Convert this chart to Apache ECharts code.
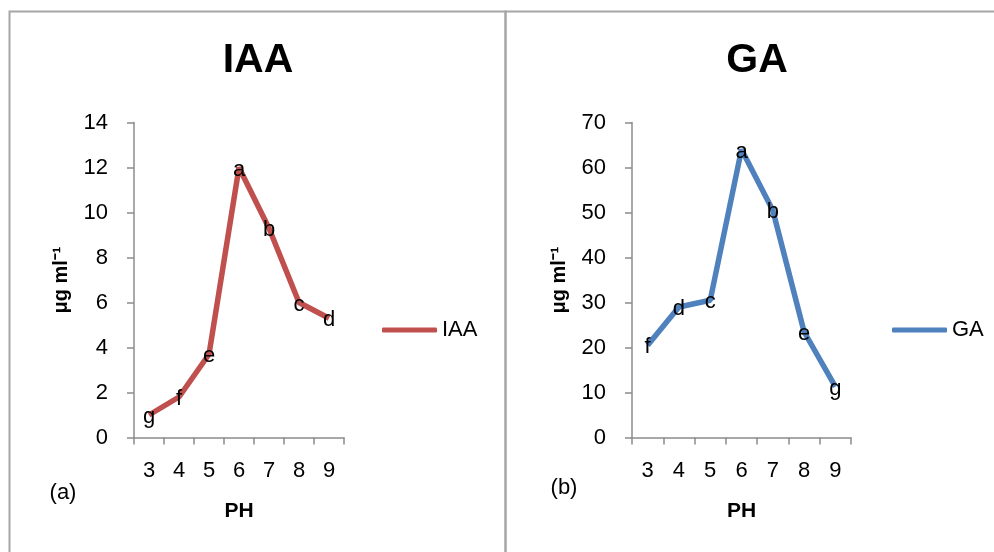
<!DOCTYPE html>
<meta charset="utf-8" />
<style>
html, body { margin: 0; padding: 0; background: #fff; }
#chart { width: 994px; height: 552px; }
</style>
<script src="https://cdn.jsdelivr.net/npm/echarts@6.0.0/dist/echarts.min.js"></script>
<div id="chart"></div>
<script>
// pH levels shared by both panels
const phLevels = ['3', '4', '5', '6', '7', '8', '9'];

// IAA (panel a)
const iaaValues = [1.0, 1.8, 3.7, 12.0, 9.3, 6.0, 5.3];
const iaaLetters = ['g', 'f', 'e', 'a', 'b', 'c', 'd'];

// GA (panel b)
const gaValues = [20.5, 29.0, 30.5, 64.0, 50.5, 23.5, 11.3];
const gaLetters = ['f', 'd', 'c', 'a', 'b', 'e', 'g'];

const FONT = '"Liberation Sans", Arial, sans-serif';
const AXIS_COLOR = '#8c8c8c';

const chart = echarts.init(document.getElementById('chart'), null, { renderer: 'canvas' });

const xAxisFor = (gridIndex) => ({
  type: 'category',
  gridIndex,
  data: phLevels,
  boundaryGap: true,
  name: 'PH',
  nameLocation: 'middle',
  nameGap: 63,
  nameTextStyle: { fontFamily: FONT, fontWeight: 'bold', fontSize: 21, color: '#000' },
  axisLine: { lineStyle: { color: AXIS_COLOR, width: 1.5 } },
  axisTick: { show: true, length: 7, lineStyle: { color: AXIS_COLOR, width: 1.5 } },
  axisLabel: { margin: 22, fontFamily: FONT, fontSize: 22, color: '#000' },
  splitLine: { show: false }
});

const yAxisFor = (gridIndex, max, interval) => ({
  type: 'value',
  gridIndex,
  min: 0,
  max,
  interval,
  name: 'μg ml⁻¹',
  nameLocation: 'middle',
  nameRotate: 90,
  nameGap: 63,
  nameTextStyle: { fontFamily: FONT, fontWeight: 'bold', fontSize: 20, color: '#000' },
  axisLine: { show: true, lineStyle: { color: AXIS_COLOR, width: 1.5 } },
  axisTick: { show: true, length: 7, lineStyle: { color: AXIS_COLOR, width: 1.5 } },
  axisLabel: { margin: 26, fontFamily: FONT, fontSize: 22, color: '#000' },
  splitLine: { show: false }
});

const lineSeries = (name, values, letters, color, idx) => ({
  name,
  type: 'line',
  xAxisIndex: idx,
  yAxisIndex: idx,
  data: values,
  symbol: 'circle',
  symbolSize: 0.1,
  showSymbol: true,
  itemStyle: { color },
  lineStyle: { color, width: 5.5 },
  label: {
    show: true,
    position: 'inside',
    offset: [0, 2],
    formatter: (p) => letters[p.dataIndex],
    fontFamily: FONT,
    fontSize: 22,
    color: '#000'
  },
  emphasis: { disabled: true },
  animation: false
});

const legendFor = (name, left) => ({
  data: [name],
  left,
  top: 314,
  icon: 'roundRect',
  itemWidth: 55,
  itemHeight: 5,
  selectedMode: false,
  textStyle: { fontFamily: FONT, fontSize: 22, color: '#000' }
});

const textEl = (text, x, y, size, bold) => ({
  type: 'text',
  x, y,
  style: {
    text,
    font: (bold ? 'bold ' : '') + size + 'px ' + FONT,
    fill: '#000',
    align: 'center',
    verticalAlign: 'middle'
  }
});

chart.setOption({
  animation: false,
  grid: [
    { left: 134, top: 122.5, width: 210, height: 315 },
    { left: 632, top: 122.5, width: 219, height: 315 }
  ],
  xAxis: [xAxisFor(0), xAxisFor(1)],
  yAxis: [yAxisFor(0, 14, 2), yAxisFor(1, 70, 10)],
  legend: [legendFor('IAA', 377), legendFor('GA', 887)],
  series: [
    lineSeries('IAA', iaaValues, iaaLetters, '#c0504d', 0),
    lineSeries('GA', gaValues, gaLetters, '#4f81bd', 1)
  ],
  graphic: [
    {
      type: 'rect',
      shape: { x: 9.5, y: 11.5, width: 496, height: 600 },
      style: { fill: null, stroke: '#a6a6a6', lineWidth: 2 },
      silent: true
    },
    {
      type: 'rect',
      shape: { x: 505.5, y: 11.5, width: 600, height: 600 },
      style: { fill: null, stroke: '#a6a6a6', lineWidth: 2 },
      silent: true
    },
    textEl('IAA', 258, 61, 41, true),
    textEl('GA', 757, 61, 41, true),
    textEl('(a)', 63, 493, 22, false),
    textEl('(b)', 564, 488, 22, false)
  ]
});

addEventListener('resize', () => chart.resize());
</script>
